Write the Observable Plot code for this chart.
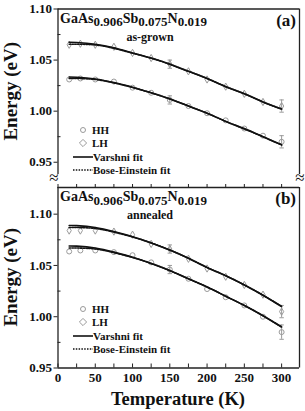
<!DOCTYPE html>
<html><head><meta charset="utf-8">
<script src="https://cdn.jsdelivr.net/npm/d3@7"></script>
<script src="https://cdn.jsdelivr.net/npm/@observablehq/plot@0.6"></script>
<style>
body{margin:0;background:#fff}
#chart{position:relative;width:305px;height:411px}
#chart svg{position:absolute;left:0;top:0;overflow:visible}
</style></head><body><div id="chart"></div>
<script>
// ---- data ----
const temps = [15,30,50,75,100,125,150,175,200,225,250,275,300];
const fitT  = [15,25,50,75,100,125,150,175,200,225,250,275,300];
// panel (a) as-grown
const aLH = [1.065,1.066,1.065,1.063,1.057,1.052,1.046,1.039,1.031,1.024,1.017,1.009,1.005];
const aHH = [1.031,1.032,1.031,1.029,1.023,1.018,1.011,1.005,0.998,0.991,0.983,0.976,0.970];
const aLHVarshni = [1.0675,1.0672,1.0655,1.062,1.057,1.052,1.046,1.039,1.032,1.024,1.017,1.009,1.002];
const aLHBose    = [1.0655,1.0655,1.0648,1.0615,1.0568,1.0518,1.046,1.039,1.032,1.024,1.017,1.009,1.002];
const aHHVarshni = [1.0335,1.0332,1.0315,1.028,1.0235,1.018,1.012,1.005,0.998,0.990,0.983,0.975,0.967];
const aHHBose    = [1.032,1.032,1.031,1.0277,1.0232,1.018,1.012,1.005,0.998,0.990,0.9825,0.975,0.967];
const aErrT = [150,300,150,300];
const aErrE = [1.046,1.005,1.011,0.970];
const aErrD = [0.004,0.006,0.004,0.006];
// panel (b) annealed
const bLH = [1.084,1.084,1.084,1.083,1.080,1.071,1.066,1.0565,1.047,1.039,1.031,1.0215,1.005];
const bHH = [1.0636,1.0646,1.0646,1.063,1.060,1.053,1.046,1.037,1.027,1.019,1.011,1.000,0.985];
const bLHVarshni = [1.089,1.0888,1.087,1.083,1.078,1.072,1.065,1.057,1.048,1.040,1.031,1.021,1.010];
const bLHBose    = [1.087,1.087,1.086,1.0825,1.0778,1.072,1.065,1.057,1.048,1.040,1.031,1.021,1.010];
const bHHVarshni = [1.069,1.0688,1.067,1.063,1.058,1.052,1.045,1.037,1.029,1.020,1.011,1.001,0.990];
const bHHBose    = [1.067,1.067,1.066,1.0625,1.0578,1.052,1.045,1.037,1.029,1.020,1.011,1.001,0.990];
const bErrT = [150,300,150,300];
const bErrE = [1.066,1.005,1.046,0.985];
const bErrD = [0.004,0.006,0.004,0.007];

const yTicks = [0.95,1.00,1.05,1.10];
const yMinor = [0.975,1.025,1.075];
const xTicks = [0,50,100,150,200,250,300];
const xMinor = [25,75,125,175,225,275];
const allX = [...xTicks, ...xMinor];

// ---- layout ----
const W = 305, H = 411;
const FONT = "'Liberation Serif','Times New Roman',serif";
const PT = "#9a9a9a";
const capSymbol = {draw(ctx, size){ const w = Math.sqrt(size)/2; ctx.moveTo(-w,0); ctx.lineTo(w,0); }};

function rows(xs, ys){ return xs.map((x,i)=>({T:x, E:ys[i]})); }

function panel(o){
  const marks = [
    Plot.axisY({ticks: yTicks, tickFormat: d3.format(".2f"), tickSize: 4, tickPadding: 2, fontSize: 13, label: null, stroke:"#222"}),
    Plot.axisY({ticks: yMinor, tickFormat: () => "", tickSize: -3, label: null, stroke:"#222"}),
    Plot.ruleX([0, 324], {stroke:"#222", strokeWidth:1.3}),
    Plot.ruleY([o.yDom[1]], {stroke:"#222", strokeWidth:1.3}),
  ];
  if (o.bottom) {
    marks.push(
      Plot.ruleY([o.yDom[0]], {stroke:"#222", strokeWidth:1.3}),
      Plot.axisX({ticks: xTicks, tickSize: 0, tickPadding: 5, fontSize: 13, label: null}),
      Plot.axisX({ticks: allX, tickSize: -4, tickFormat: () => "", label: null, stroke:"#222"}),
      Plot.axisX({anchor:"top", ticks: allX, tickSize: 4, tickFormat: () => "", label: null, stroke:"#222"})
    );
  } else {
    marks.push(Plot.axisX({ticks: [], label: null}));
  }
  const err = o.errT.map((t,i)=>({T:t, E:o.errE[i], lo:o.errE[i]-o.errD[i], hi:o.errE[i]+o.errD[i]}));
  marks.push(
    Plot.ruleX(err, {x:"T", y1:"lo", y2:"hi", stroke: PT, strokeWidth: 1}),
    Plot.dot(err, {x:"T", y:"lo", symbol: capSymbol, r: 2.5, stroke: PT, strokeWidth: 1}),
    Plot.dot(err, {x:"T", y:"hi", symbol: capSymbol, r: 2.5, stroke: PT, strokeWidth: 1}),
    Plot.dot(rows(temps, o.HH), {x:"T", y:"E", symbol:"circle", r: 2.5, stroke: PT, strokeWidth: 1, fill:"none"}),
    Plot.dot(rows(temps, o.LH), {x:"T", y:"E", symbol:"diamond", r: 2.2, stroke: PT, strokeWidth: 1, fill:"none"}),
    Plot.line(rows(fitT, o.LHV), {x:"T", y:"E", curve:"natural", stroke:"#111", strokeWidth: 1.6}),
    Plot.line(rows(fitT, o.HHV), {x:"T", y:"E", curve:"natural", stroke:"#111", strokeWidth: 1.6}),
    Plot.line(rows(fitT, o.LHB), {x:"T", y:"E", curve:"natural", stroke:"#111", strokeWidth: 1.6, strokeDasharray:"1.5,1.3"}),
    Plot.line(rows(fitT, o.HHB), {x:"T", y:"E", curve:"natural", stroke:"#111", strokeWidth: 1.6, strokeDasharray:"1.5,1.3"})
  );
  const svg = Plot.plot({
    width: W, height: H,
    marginLeft: 57.5, marginRight: 6, marginTop: o.top, marginBottom: H - o.bot,
    x: {domain: [0, 324]},
    y: {domain: o.yDom},
    style: {fontFamily: FONT, fontWeight: "bold", background: "transparent", color:"#111", overflow:"visible"},
    marks
  });
  const s = d3.select(svg);
  const g = s.append("g").attr("font-family", FONT).attr("font-weight", "bold").attr("fill", "#111").attr("text-anchor", "start");
  // title with subscripts
  const t = g.append("text").attr("x", 60).attr("y", o.top + 14).attr("font-size", 14);
  t.append("tspan").text("GaAs");
  t.append("tspan").attr("dy", 3.5).attr("font-size", 13).text("0.906");
  t.append("tspan").attr("dy", -3.5).text("Sb");
  t.append("tspan").attr("dy", 3.5).attr("font-size", 13).text("0.075");
  t.append("tspan").attr("dy", -3.5).text("N");
  t.append("tspan").attr("dy", 3.5).attr("font-size", 13).text("0.019");
  g.append("text").attr("x", 150).attr("y", o.top + 32).attr("text-anchor","middle").attr("font-size", 12).text(o.sub);
  g.append("text").attr("x", 296).attr("y", o.top + 17).attr("text-anchor","end").attr("font-size", 17).text(o.tag);
  // y label
  g.append("text").attr("transform", `translate(17,${(o.top + o.bot)/2}) rotate(-90)`).attr("text-anchor","middle").attr("font-size", 19).text("Energy (eV)");
  // legend
  const L = o.leg;
  g.append("circle").attr("cx", 83).attr("cy", L).attr("r", 2.5).attr("fill","none").attr("stroke", PT);
  g.append("text").attr("x", 92).attr("y", L + 4).attr("font-size", 11).text("HH");
  g.append("path").attr("d", "M0,-3.6L3.6,0L0,3.6L-3.6,0Z").attr("transform", `translate(83,${L+13})`).attr("fill","none").attr("stroke", PT);
  g.append("text").attr("x", 92).attr("y", L + 17).attr("font-size", 11).text("LH");
  g.append("line").attr("x1", 73).attr("x2", 93).attr("y1", L + 27).attr("y2", L + 27).attr("stroke","#111").attr("stroke-width",1.6);
  g.append("text").attr("x", 93).attr("y", L + 31).attr("font-size", 11).text("Varshni fit");
  g.append("line").attr("x1", 73).attr("x2", 93).attr("y1", L + 40).attr("y2", L + 40).attr("stroke","#111").attr("stroke-width",1.6).attr("stroke-dasharray","1.5,1.3");
  g.append("text").attr("x", 93).attr("y", L + 44).attr("font-size", 11).text("Bose-Einstein fit");
  if (!o.bottom) {
    g.append("text").attr("x", 54).attr("y", o.bot + 9).attr("text-anchor","middle").attr("font-size", 17).attr("font-weight","normal").text("≈");
    g.append("text").attr("x", 300).attr("y", o.bot + 9).attr("text-anchor","middle").attr("font-size", 17).attr("font-weight","normal").text("≈");
  } else {
    g.append("text").attr("x", 178).attr("y", 405).attr("text-anchor","middle").attr("font-size", 18.5).text("Temperature (K)");
  }
  return svg;
}

const chart = document.getElementById("chart");
chart.append(panel({top: 8.5, bot: 174, yDom: [0.938, 1.10], HH: aHH, LH: aLH, HHV: aHHVarshni, HHB: aHHBose, LHV: aLHVarshni, LHB: aLHBose,
  errT: aErrT, errE: aErrE, errD: aErrD, sub: "as-grown", tag: "(a)", leg: 130, bottom: false}));
chart.append(panel({top: 187, bot: 367.5, yDom: [0.95, 1.126], HH: bHH, LH: bLH, HHV: bHHVarshni, HHB: bHHBose, LHV: bLHVarshni, LHB: bLHBose,
  errT: bErrT, errE: bErrE, errD: bErrD, sub: "annealed", tag: "(b)", leg: 309, bottom: true}));
</script></body></html>
